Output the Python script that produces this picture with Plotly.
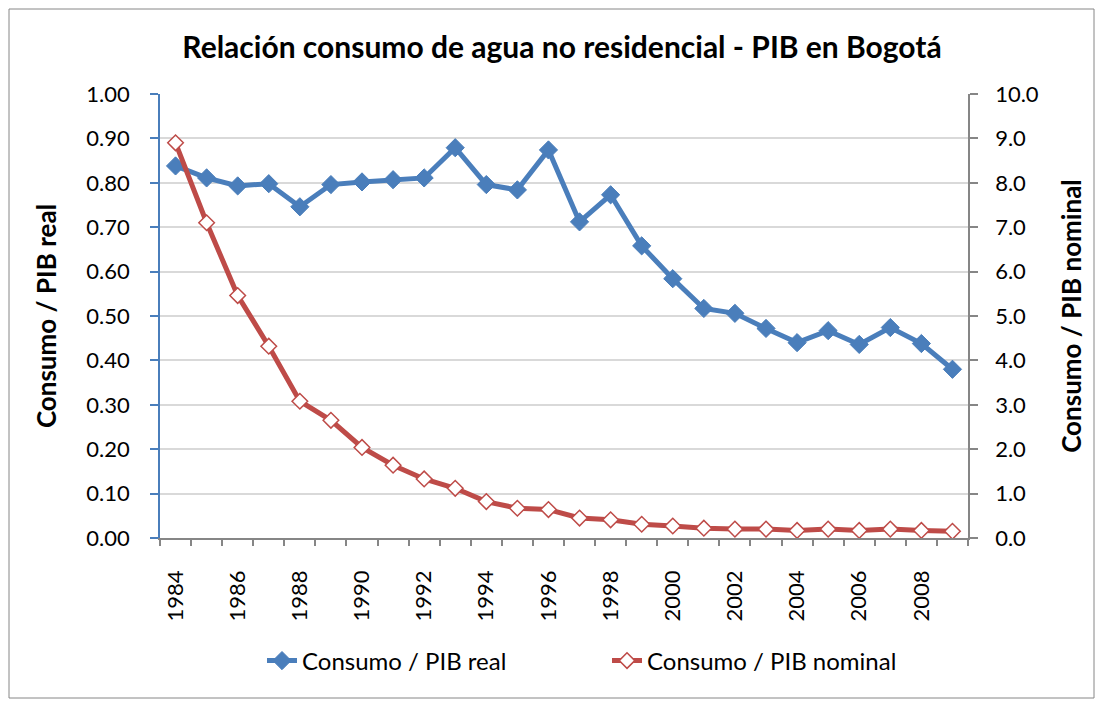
import plotly.graph_objects as go

years = list(range(1984, 2010))
pib_real = [0.838, 0.811, 0.793, 0.798, 0.746, 0.796, 0.802, 0.807, 0.811, 0.879,
            0.796, 0.784, 0.874, 0.712, 0.773, 0.658, 0.584, 0.517, 0.506, 0.472,
            0.440, 0.467, 0.436, 0.474, 0.438, 0.380]
pib_nominal = [8.90, 7.10, 5.46, 4.32, 3.08, 2.65, 2.04, 1.64, 1.33, 1.12,
               0.82, 0.67, 0.64, 0.45, 0.41, 0.31, 0.27, 0.22, 0.20, 0.20,
               0.17, 0.20, 0.17, 0.20, 0.17, 0.15]
x_labels = [str(y) for y in range(1984, 2010, 2)]

BLUE = "#4A7EBB"
RED = "#BE4B48"
GRAY = "#868686"
FONT = "Lato"

# page body has an 8px margin; size figure so it fits the 1103x707 window
W, H = 1087, 691
L, T = 152, 86
R = 8 + W - 968
B = 8 + H - 538
pw, ph = W - L - R, H - T - B

fig = go.Figure()
fig.add_trace(go.Scatter(
    x=years, y=pib_real, name="Consumo / PIB real", mode="lines+markers",
    line=dict(color=BLUE, width=5),
    marker=dict(symbol="diamond", size=14, color=BLUE, line=dict(color=BLUE, width=1)),
    yaxis="y"))
fig.add_trace(go.Scatter(
    x=years, y=pib_nominal, name="Consumo / PIB nominal", mode="lines+markers",
    line=dict(color=RED, width=5),
    marker=dict(symbol="diamond", size=12, color="white", line=dict(color=RED, width=1.5)),
    yaxis="y2"))

fig.update_layout(
    width=W, height=H,
    margin=dict(l=L, r=R, t=T, b=B, autoexpand=False),
    paper_bgcolor="white", plot_bgcolor="white",
    font=dict(family=FONT, size=22, color="black"),
    title=dict(text="<b>Relación consumo de agua no residencial - PIB en Bogotá</b>",
               x=(562 - 8) / W, xanchor="center", y=1 - (47 - 8) / H, yanchor="middle",
               font=dict(family=FONT, size=30, color="black")),
    xaxis=dict(range=[1983.5, 2009.5], tickmode="array", tickvals=[int(v) for v in x_labels],
               ticktext=x_labels, tickangle=-90, ticks="", showgrid=False,
               showline=True, linecolor=GRAY, linewidth=1.5, ticklabelstandoff=22,
               minor=dict(ticks="outside", tick0=1983.5, dtick=1, ticklen=6,
                          tickcolor=GRAY, tickwidth=1.5, showgrid=False),
               tickfont=dict(size=22), zeroline=False),
    yaxis=dict(range=[0, 1.0], dtick=0.1, tickformat=".2f", showgrid=True,
               gridcolor="#D9D9D9", gridwidth=1.5, showline=True, linecolor=BLUE,
               linewidth=1.5, ticks="outside", ticklen=8, tickcolor=BLUE, tickwidth=1.5,
               zeroline=False, ticklabelstandoff=16,
               title=dict(text="<b>Consumo / PIB real</b>", font=dict(size=26), standoff=22),
               tickfont=dict(size=22)),
    yaxis2=dict(range=[0, 10], dtick=1, tickformat=".1f", overlaying="y", side="right",
                showgrid=False, showline=True, linecolor=GRAY, linewidth=1.5,
                ticks="outside", ticklen=8, tickcolor=GRAY, tickwidth=1.5, zeroline=False,
                ticklabelstandoff=13,
                title=dict(text="<b>Consumo / PIB nominal</b>", font=dict(size=26), standoff=25),
                tickfont=dict(size=22)),
    legend=dict(orientation="h", x=(607 - 160) / pw, xanchor="center", y=-(661 - 538) / ph,
                yanchor="middle", font=dict(size=24), traceorder="normal",
                entrywidth=300, entrywidthmode="pixels"),
    showlegend=True,
)

# outer chart border
fig.add_shape(type="rect", xref="paper", yref="paper",
              x0=(1 - L) / pw, x1=(W - 1 - L) / pw,
              y0=-(B - 1) / ph, y1=1 + (T - 1) / ph,
              line=dict(color=GRAY, width=1), fillcolor="rgba(0,0,0,0)", layer="below")

fig.write_html("out.html")
